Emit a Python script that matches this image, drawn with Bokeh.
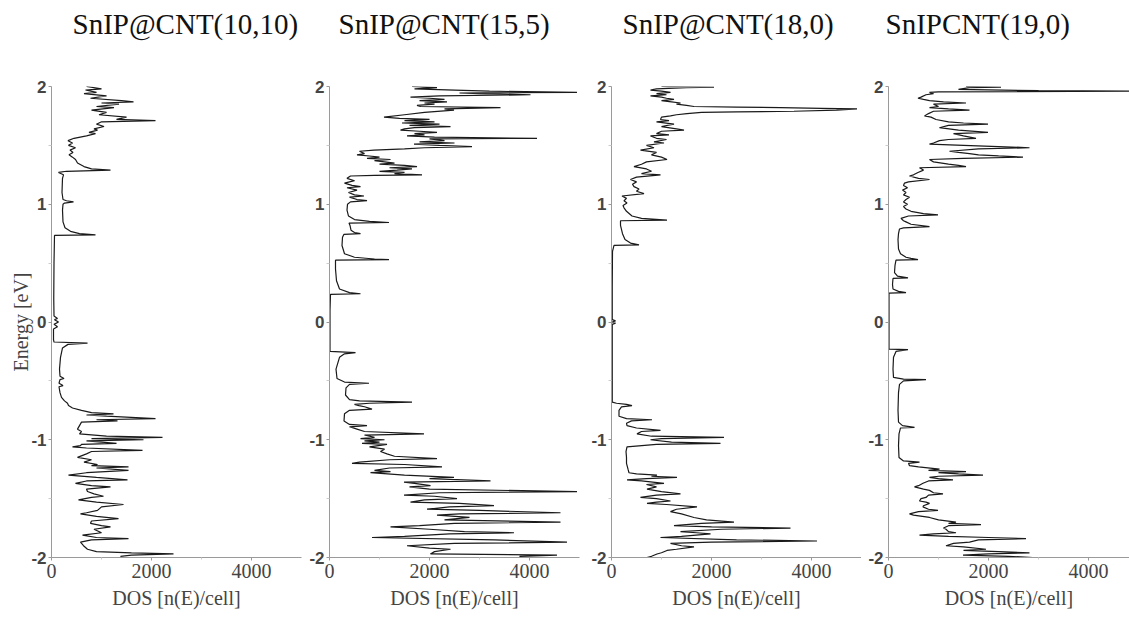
from bokeh.plotting import figure
from bokeh.layouts import row
from bokeh.models import FixedTicker, Range1d, ColumnDataSource, Title
from bokeh.embed import file_html
from bokeh.resources import INLINE

# ---------------- data: (energy [eV], DOS [n(E)/cell]) ----------------
titles = ["SnIP@CNT(10,10)", "SnIP@CNT(15,5)", "SnIP@CNT(18,0)", "SnIPCNT(19,0)"]

y_tick_values = [-2, -1, 0, 1, 2]
y_minor_values = [-1.5, -0.5, 0.5, 1.5]
x_tick_values = [0, 2000, 4000]
x_minor_values = [1000, 3000]

dos_10_10 = [
    (2.00, 700), (1.98, 1000), (1.97, 680), (1.95, 900), (1.94, 650), (1.92, 1100), (1.90, 780),
    (1.88, 1400), (1.87, 1640), (1.86, 1000), (1.85, 1350), (1.83, 900), (1.82, 1250), (1.80, 800),
    (1.78, 1100), (1.76, 950), (1.74, 1500), (1.72, 1300), (1.71, 2080), (1.70, 1000), (1.68, 900),
    (1.66, 1050), (1.64, 850), (1.63, 920), (1.61, 750), (1.60, 880), (1.58, 700), (1.56, 450),
    (1.54, 330), (1.52, 420), (1.50, 340), (1.48, 480), (1.46, 370), (1.44, 430), (1.42, 350),
    (1.40, 420), (1.38, 480), (1.35, 520), (1.32, 650), (1.30, 800), (1.29, 1180), (1.28, 300),
    (1.27, 140), (1.25, 240), (1.22, 220), (1.10, 210), (1.04, 230), (1.03, 300), (1.02, 440),
    (1.01, 260), (1.00, 230), (0.95, 220), (0.85, 230), (0.80, 270), (0.77, 380), (0.75, 560),
    (0.74, 880), (0.735, 60), (0.50, 50), (0.20, 45), (0.05, 50), (0.03, 120), (0.02, 60),
    (0.00, 140), (-0.02, 50), (-0.04, 120), (-0.06, 40), (-0.15, 40), (-0.17, 50), (-0.18, 720),
    (-0.19, 330), (-0.22, 220), (-0.30, 180), (-0.40, 160), (-0.46, 170), (-0.48, 250), (-0.49, 170),
    (-0.52, 150), (-0.54, 230), (-0.55, 150), (-0.60, 170), (-0.64, 200), (-0.67, 260), (-0.69, 320),
    (-0.71, 340), (-0.73, 420), (-0.75, 600), (-0.77, 800), (-0.78, 1240), (-0.79, 700), (-0.80, 1100),
    (-0.82, 2080), (-0.83, 900), (-0.84, 1320), (-0.85, 600), (-0.88, 560), (-0.91, 520), (-0.93, 600),
    (-0.95, 560), (-0.97, 1100), (-0.98, 2220), (-0.99, 800), (-1.00, 1840), (-1.01, 700), (-1.03, 1300),
    (-1.04, 600), (-1.05, 580), (-1.06, 420), (-1.07, 700), (-1.09, 1820), (-1.10, 800), (-1.12, 700),
    (-1.15, 520), (-1.17, 800), (-1.19, 650), (-1.21, 920), (-1.22, 800), (-1.23, 1540), (-1.24, 900),
    (-1.26, 1540), (-1.28, 700), (-1.30, 340), (-1.32, 900), (-1.34, 1520), (-1.35, 700), (-1.37, 480),
    (-1.39, 800), (-1.40, 1180), (-1.42, 700), (-1.44, 720), (-1.46, 850), (-1.48, 1040), (-1.49, 800),
    (-1.51, 540), (-1.53, 900), (-1.55, 1440), (-1.57, 1000), (-1.60, 920), (-1.62, 700), (-1.63, 580),
    (-1.65, 900), (-1.67, 1340), (-1.69, 800), (-1.71, 780), (-1.73, 1000), (-1.74, 1180), (-1.76, 850),
    (-1.79, 1000), (-1.81, 620), (-1.83, 900), (-1.84, 1540), (-1.85, 800), (-1.87, 580), (-1.90, 640),
    (-1.93, 720), (-1.95, 900), (-1.96, 1600), (-1.97, 2440), (-1.98, 1600), (-1.99, 1380), (-2.00, 1500),
]

dos_15_5 = [
    (2.00, 1650), (1.99, 2150), (1.98, 1700), (1.97, 2500), (1.96, 3200), (1.95, 4950), (1.945, 2600),
    (1.94, 3000), (1.93, 4020), (1.92, 2200), (1.91, 1620), (1.90, 2000), (1.89, 2300), (1.88, 1800),
    (1.87, 2350), (1.86, 1900), (1.85, 2100), (1.84, 1750), (1.83, 1820), (1.82, 3420), (1.81, 2300),
    (1.80, 2490), (1.78, 1900), (1.76, 1500), (1.74, 1090), (1.73, 1400), (1.72, 2000), (1.71, 1500),
    (1.70, 2100), (1.69, 1450), (1.68, 2200), (1.67, 1600), (1.66, 2420), (1.65, 1700), (1.64, 1500),
    (1.63, 1420), (1.62, 1800), (1.61, 2150), (1.60, 1700), (1.59, 1900), (1.58, 1550), (1.57, 2100),
    (1.56, 4150), (1.555, 2000), (1.54, 2300), (1.53, 1800), (1.52, 2500), (1.51, 1690), (1.50, 2200),
    (1.49, 2850), (1.48, 1900), (1.47, 1500), (1.46, 890), (1.45, 600), (1.43, 700), (1.42, 550),
    (1.41, 800), (1.40, 1000), (1.39, 750), (1.38, 1220), (1.37, 900), (1.36, 1100), (1.35, 1300),
    (1.34, 1000), (1.33, 1500), (1.32, 1750), (1.31, 1200), (1.30, 1650), (1.29, 1350), (1.28, 1000),
    (1.27, 1500), (1.26, 1300), (1.25, 1850), (1.245, 900), (1.24, 420), (1.22, 350), (1.20, 500),
    (1.18, 300), (1.16, 450), (1.15, 620), (1.14, 350), (1.12, 550), (1.10, 380), (1.08, 500),
    (1.07, 690), (1.06, 400), (1.04, 550), (1.03, 750), (1.02, 420), (1.00, 360), (0.95, 350),
    (0.90, 380), (0.87, 500), (0.855, 800), (0.845, 1190), (0.84, 390), (0.82, 410), (0.78, 430),
    (0.76, 500), (0.75, 620), (0.745, 290), (0.72, 260), (0.65, 250), (0.58, 300), (0.55, 500),
    (0.535, 900), (0.53, 1190), (0.525, 120), (0.45, 120), (0.35, 140), (0.28, 200), (0.25, 400),
    (0.24, 620), (0.235, 20), (0.10, 10), (-0.10, 10), (-0.25, 10), (-0.26, 520), (-0.27, 300),
    (-0.30, 200), (-0.40, 130), (-0.48, 150), (-0.51, 300), (-0.52, 790), (-0.53, 400), (-0.56, 330),
    (-0.62, 320), (-0.66, 400), (-0.67, 600), (-0.68, 1650), (-0.69, 800), (-0.70, 500), (-0.71, 590),
    (-0.72, 700), (-0.74, 850), (-0.75, 400), (-0.78, 300), (-0.84, 290), (-0.87, 400), (-0.88, 750),
    (-0.89, 400), (-0.91, 550), (-0.93, 700), (-0.95, 1890), (-0.96, 700), (-0.98, 900), (-0.99, 620),
    (-1.00, 1100), (-1.01, 700), (-1.02, 1000), (-1.03, 650), (-1.04, 1150), (-1.06, 800), (-1.08, 1100),
    (-1.10, 1020), (-1.12, 1150), (-1.14, 1300), (-1.16, 2150), (-1.17, 1200), (-1.19, 600), (-1.20, 450),
    (-1.21, 1500), (-1.23, 2250), (-1.24, 1200), (-1.26, 900), (-1.27, 1220), (-1.28, 820), (-1.30, 1500),
    (-1.32, 2490), (-1.33, 2000), (-1.35, 3220), (-1.36, 1490), (-1.37, 1700), (-1.39, 2020), (-1.40, 1600),
    (-1.42, 2000), (-1.44, 4950), (-1.45, 2200), (-1.47, 1490), (-1.48, 2100), (-1.50, 2550), (-1.51, 1900),
    (-1.53, 1620), (-1.54, 2600), (-1.56, 3290), (-1.57, 2400), (-1.59, 1950), (-1.60, 3000), (-1.62, 4620),
    (-1.63, 2600), (-1.64, 2150), (-1.66, 2800), (-1.68, 2300), (-1.70, 4620), (-1.71, 2500), (-1.73, 1800),
    (-1.74, 1220), (-1.76, 2000), (-1.78, 2700), (-1.79, 3690), (-1.80, 2400), (-1.82, 1500), (-1.83, 850),
    (-1.85, 3300), (-1.87, 4750), (-1.88, 2500), (-1.90, 1550), (-1.92, 2000), (-1.93, 2420), (-1.95, 2100),
    (-1.97, 2020), (-1.98, 4550), (-1.99, 3800), (-2.00, 3950),
]

dos_18_0 = [
    (2.00, 1000), (1.995, 2050), (1.99, 1500), (1.98, 900), (1.97, 780), (1.96, 1000), (1.95, 1180),
    (1.94, 900), (1.93, 1100), (1.92, 780), (1.91, 1000), (1.90, 1100), (1.89, 1250), (1.88, 1000),
    (1.87, 1200), (1.86, 1380), (1.85, 1300), (1.84, 1500), (1.83, 1650), (1.825, 2500), (1.82, 3380),
    (1.815, 4200), (1.81, 4910), (1.80, 4500), (1.79, 3650), (1.785, 2500), (1.78, 1800), (1.77, 1510),
    (1.76, 1300), (1.75, 1180), (1.74, 1000), (1.72, 980), (1.71, 1150), (1.70, 900), (1.68, 1250),
    (1.66, 1000), (1.64, 1300), (1.63, 1450), (1.62, 1000), (1.60, 900), (1.59, 1150), (1.58, 780),
    (1.56, 900), (1.55, 1100), (1.53, 850), (1.52, 1050), (1.50, 700), (1.48, 850), (1.46, 580),
    (1.44, 900), (1.42, 800), (1.40, 1000), (1.38, 1110), (1.36, 700), (1.34, 600), (1.32, 450),
    (1.30, 700), (1.28, 800), (1.26, 600), (1.25, 980), (1.23, 500), (1.21, 380), (1.19, 500),
    (1.17, 420), (1.15, 450), (1.13, 550), (1.11, 500), (1.09, 650), (1.07, 210), (1.05, 300),
    (1.03, 250), (1.01, 310), (0.99, 230), (0.97, 250), (0.94, 300), (0.90, 410), (0.88, 600),
    (0.865, 1110), (0.86, 180), (0.82, 180), (0.75, 220), (0.70, 270), (0.67, 380), (0.655, 550),
    (0.65, 50), (0.60, 20), (0.30, 15), (0.02, 15), (0.01, 80), (0.00, 15), (-0.01, 80), (-0.02, 15),
    (-0.50, 15), (-0.68, 15), (-0.69, 100), (-0.70, 300), (-0.71, 410), (-0.72, 200), (-0.75, 150),
    (-0.80, 150), (-0.82, 300), (-0.83, 810), (-0.84, 400), (-0.86, 300), (-0.88, 310), (-0.90, 500),
    (-0.92, 980), (-0.93, 600), (-0.95, 510), (-0.97, 800), (-0.98, 2250), (-0.99, 1000), (-1.00, 780),
    (-1.02, 1200), (-1.03, 2180), (-1.04, 900), (-1.06, 310), (-1.10, 290), (-1.15, 300), (-1.20, 300),
    (-1.25, 330), (-1.28, 350), (-1.29, 500), (-1.30, 910), (-1.31, 800), (-1.32, 1310), (-1.33, 700),
    (-1.34, 310), (-1.35, 600), (-1.37, 1050), (-1.38, 700), (-1.40, 900), (-1.42, 710), (-1.44, 1000),
    (-1.46, 1380), (-1.47, 900), (-1.49, 580), (-1.50, 900), (-1.52, 1180), (-1.53, 900), (-1.54, 710),
    (-1.55, 1100), (-1.57, 1710), (-1.59, 1300), (-1.61, 1180), (-1.63, 1400), (-1.66, 1650), (-1.68, 1900),
    (-1.70, 2450), (-1.71, 1800), (-1.73, 1250), (-1.74, 2000), (-1.75, 3580), (-1.76, 2200), (-1.78, 1380),
    (-1.79, 1700), (-1.80, 1980), (-1.82, 1400), (-1.83, 980), (-1.85, 2500), (-1.86, 4110), (-1.87, 2000),
    (-1.88, 1180), (-1.90, 1400), (-1.91, 1650), (-1.93, 1300), (-1.94, 1110), (-1.96, 1000), (-1.97, 910),
    (-1.99, 800), (-2.00, 710),
]

dos_19_0 = [
    (2.00, 1550), (1.995, 2250), (1.99, 1620), (1.975, 1400), (1.965, 3000), (1.96, 4900), (1.955, 1000),
    (1.95, 820), (1.94, 900), (1.93, 750), (1.91, 650), (1.90, 590), (1.89, 700), (1.88, 820),
    (1.87, 1100), (1.86, 1550), (1.85, 900), (1.83, 1000), (1.82, 820), (1.81, 1200), (1.80, 1620),
    (1.79, 900), (1.77, 800), (1.75, 720), (1.74, 850), (1.72, 950), (1.70, 1200), (1.69, 1500),
    (1.68, 1990), (1.67, 1200), (1.65, 1020), (1.63, 1400), (1.61, 1990), (1.60, 1300), (1.58, 1500),
    (1.56, 1750), (1.55, 1200), (1.54, 1020), (1.52, 900), (1.51, 820), (1.50, 1500), (1.49, 2200),
    (1.48, 2820), (1.47, 1800), (1.45, 1220), (1.44, 1400), (1.43, 1620), (1.42, 1800), (1.41, 2200),
    (1.40, 2690), (1.39, 1500), (1.38, 820), (1.36, 900), (1.34, 1200), (1.33, 1400), (1.32, 1550),
    (1.31, 620), (1.29, 700), (1.27, 590), (1.25, 500), (1.24, 420), (1.22, 600), (1.21, 820),
    (1.19, 400), (1.18, 320), (1.16, 300), (1.14, 380), (1.12, 280), (1.10, 350), (1.08, 300),
    (1.06, 420), (1.04, 350), (1.02, 300), (1.00, 380), (0.98, 300), (0.96, 350), (0.94, 450),
    (0.92, 700), (0.91, 990), (0.90, 400), (0.88, 250), (0.86, 300), (0.85, 350), (0.83, 450),
    (0.81, 820), (0.80, 300), (0.79, 220), (0.75, 200), (0.70, 190), (0.62, 200), (0.58, 240),
    (0.55, 350), (0.54, 450), (0.53, 590), (0.525, 150), (0.48, 130), (0.42, 120), (0.39, 180),
    (0.375, 390), (0.37, 90), (0.32, 80), (0.28, 90), (0.26, 200), (0.25, 350), (0.245, 10),
    (0.00, 10), (-0.23, 10), (-0.235, 390), (-0.25, 150), (-0.30, 100), (-0.40, 90), (-0.47, 100),
    (-0.485, 300), (-0.49, 750), (-0.50, 300), (-0.53, 220), (-0.60, 200), (-0.75, 190), (-0.85, 200),
    (-0.88, 280), (-0.895, 520), (-0.90, 240), (-0.95, 210), (-1.05, 200), (-1.15, 210), (-1.18, 300),
    (-1.19, 620), (-1.20, 400), (-1.22, 420), (-1.23, 600), (-1.25, 1020), (-1.26, 800), (-1.27, 1550),
    (-1.28, 1000), (-1.29, 1400), (-1.30, 1890), (-1.31, 1000), (-1.32, 820), (-1.33, 1000), (-1.34, 1290),
    (-1.35, 800), (-1.37, 690), (-1.39, 600), (-1.40, 520), (-1.42, 700), (-1.43, 820), (-1.45, 900),
    (-1.46, 1090), (-1.47, 800), (-1.49, 750), (-1.50, 650), (-1.52, 620), (-1.53, 750), (-1.54, 820),
    (-1.56, 700), (-1.57, 690), (-1.59, 800), (-1.60, 990), (-1.61, 600), (-1.63, 420), (-1.64, 500),
    (-1.66, 820), (-1.68, 1000), (-1.70, 1350), (-1.71, 1200), (-1.72, 1850), (-1.73, 1200), (-1.75, 1100),
    (-1.76, 1150), (-1.78, 1200), (-1.79, 1350), (-1.80, 900), (-1.81, 620), (-1.82, 1200), (-1.83, 2000),
    (-1.84, 2750), (-1.85, 1800), (-1.87, 1620), (-1.88, 1300), (-1.90, 1150), (-1.91, 1500), (-1.93, 1950),
    (-1.94, 1500), (-1.95, 2200), (-1.96, 2820), (-1.97, 2000), (-1.98, 1490), (-1.99, 2400), (-2.00, 2890),
]

panels = [dos_10_10, dos_15_5, dos_18_0, dos_19_0]

# ---------------- layout (pixels) ----------------
FRAME_H = 471
TOP = 86
BOTTOM = 61
GAP_BELOW_TITLE = 44   # empty band between the titles and the plot frames
# (left border, frame width, right border, x max, title offset)
geom = [
    (51, 250, 2, 5000, 21),
    (26, 250, 4, 5000, 9),
    (28, 250, 0, 5000, 11),
    (27, 241, 0, 4820, -3),
]

SERIF = "Liberation Serif"
SANS = "Liberation Sans"
AXIS_COL = "#9a9a9a"

figs = []
for i, (pts, title, g) in enumerate(zip(panels, titles, geom)):
    bl, fw, br, xmax, toff = g
    src = ColumnDataSource(dict(dos=[d for _, d in pts], energy=[e for e, _ in pts]))
    p = figure(frame_width=fw, frame_height=FRAME_H,
               min_border_left=bl, min_border_right=br,
               min_border_top=TOP, min_border_bottom=BOTTOM,
               x_range=Range1d(0, xmax), y_range=Range1d(-2, 2),
               output_backend="svg", toolbar_location=None)
    p.line("dos", "energy", source=src, line_color="#1a1a1a", line_width=1.2)

    # the panel title (outermost), with a spacer band between it and the frame
    p.title.text = title
    p.title.text_font = SERIF
    p.title.text_font_size = "29px"
    p.title.text_font_style = "normal"
    p.title.text_color = "#111111"
    p.title.align = "left"
    p.title.offset = toff
    p.title.standoff = 0
    p.add_layout(Title(text=" ", text_font_size="1px", standoff=GAP_BELOW_TITLE), "above")

    p.grid.visible = False
    p.outline_line_color = None
    p.background_fill_color = "white"
    p.border_fill_color = "white"

    xa = p.xaxis[0]
    xa.ticker = FixedTicker(ticks=x_tick_values, minor_ticks=x_minor_values)
    xa.axis_line_color = AXIS_COL
    xa.major_tick_line_color = AXIS_COL
    xa.minor_tick_line_color = "#cccccc"
    xa.major_tick_in = 0
    xa.major_tick_out = 3
    xa.minor_tick_in = 0
    xa.minor_tick_out = 2
    xa.major_label_text_font = SERIF
    xa.major_label_text_font_size = "20px"
    xa.major_label_text_color = "#444444"
    xa.major_label_standoff = 3
    xa.axis_label = "DOS [n(E)/cell]"
    xa.axis_label_text_font = SERIF
    xa.axis_label_text_font_size = "20px"
    xa.axis_label_text_font_style = "normal"
    xa.axis_label_text_color = "#444444"
    xa.axis_label_standoff = 6

    ya = p.yaxis[0]
    ya.ticker = FixedTicker(ticks=y_tick_values, minor_ticks=y_minor_values)
    ya.major_label_overrides = {v: str(v) for v in y_tick_values}
    ya.axis_line_color = AXIS_COL
    ya.major_tick_line_color = AXIS_COL
    ya.minor_tick_line_color = "#cccccc"
    ya.major_tick_in = 0
    ya.major_tick_out = 3
    ya.minor_tick_in = 0
    ya.minor_tick_out = 3
    ya.major_label_text_font = SANS
    ya.major_label_text_font_size = "17px"
    ya.major_label_text_font_style = "bold"
    ya.major_label_text_color = "#444444"
    ya.major_label_standoff = 2
    if i == 0:
        ya.axis_label = "Energy [eV]"
        ya.axis_label_text_font = SERIF
        ya.axis_label_text_font_size = "20px"
        ya.axis_label_text_font_style = "normal"
        ya.axis_label_text_color = "#444444"
        ya.axis_label_standoff = -4
    figs.append(p)

layout = row(*figs, spacing=0)
open("out.html", "w").write(file_html(layout, INLINE))
